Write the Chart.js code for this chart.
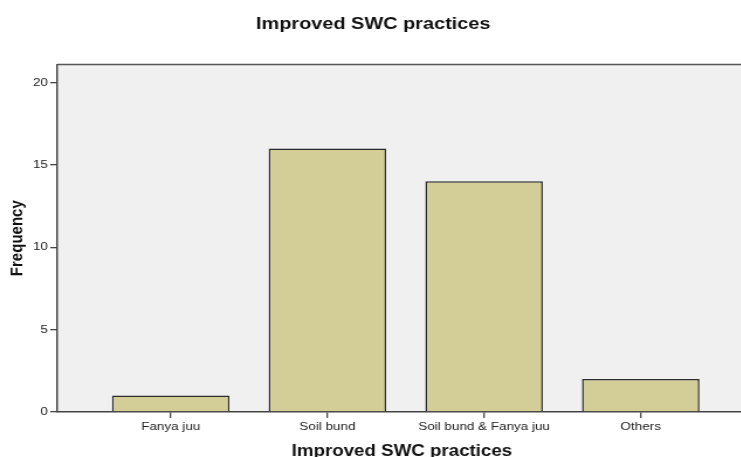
<!DOCTYPE html>
<html>
<head>
<meta charset="utf-8">
<script src="https://cdn.jsdelivr.net/npm/chart.js@4"></script>
<style>
  html, body { margin: 0; padding: 0; background: #fff; overflow: hidden; }
  /* the reference is stretched sideways, so the canvas is too */
  #wrap { width: 638px; height: 457px; transform: scaleX(1.17); transform-origin: 0 0; }
</style>
</head>
<body>
<div id="wrap"><canvas id="chart"></canvas></div>
<script>
// values
const categories = ['Fanya juu', 'Soil bund', 'Soil bund & Fanya juu', 'Others'];
const frequency = [1, 16, 14, 2];
const yTicks = [0, 5, 10, 15, 20];

const fontFamily = '"Liberation Sans", Arial, sans-serif';

// plot background + top border of the frame
const frame = {
  id: 'frame',
  beforeDraw(chart) {
    const { ctx, chartArea: a } = chart;
    ctx.save();
    ctx.fillStyle = '#f0f0f0';
    ctx.fillRect(a.left, a.top, a.right - a.left, a.bottom - a.top);
    ctx.restore();
  },
  afterDraw(chart) {
    const { ctx, chartArea: a } = chart;
    ctx.save();
    ctx.strokeStyle = '#555';
    ctx.lineWidth = 1.5;
    ctx.beginPath();
    ctx.moveTo(a.left, a.top);
    ctx.lineTo(a.right, a.top);
    ctx.stroke();
    ctx.restore();
  }
};

new Chart(document.getElementById('chart'), {
  type: 'bar',
  data: {
    datasets: [{
      data: frequency.map((v, i) => ({ x: i + 1, y: v })),
      backgroundColor: '#d3ce97',
      borderColor: '#2a2a2a',
      borderWidth: 1.5,
      barPercentage: 0.75,
      categoryPercentage: 1
    }]
  },
  options: {
    responsive: true,
    maintainAspectRatio: false,
    animation: false,
    layout: { padding: 0 },
    plugins: {
      legend: { display: false },
      tooltip: { enabled: false },
      title: {
        display: true,
        text: 'Improved SWC practices',
        color: '#111',
        font: { family: fontFamily, size: 17, weight: 'bold', lineHeight: 1.2 },
        padding: { top: 14, bottom: 30 }
      }
    },
    scales: {
      x: {
        type: 'linear',
        bounds: 'data',
        offset: false,
        min: 0.276,
        max: 4.675,
        afterBuildTicks: s => { s.ticks = categories.map((c, i) => ({ value: i + 1 })); },
        afterFit: s => { s.height = 45; },
        ticks: {
          stepSize: 1,
          includeBounds: false,
          autoSkip: false,
          maxRotation: 0,
          padding: 2,
          color: '#222',
          font: { family: fontFamily, size: 11.5 },
          callback: v => categories[v - 1]
        },
        grid: { display: true, offset: false, drawOnChartArea: false, drawTicks: true, tickLength: 6, color: '#444', lineWidth: 1.3 },
        border: { display: true, color: '#444', width: 1.5 },
        title: {
          display: true,
          text: 'Improved SWC practices',
          color: '#111',
          font: { family: fontFamily, size: 16, weight: 'bold', lineHeight: 1 },
          padding: { top: 0, bottom: -3 }
        }
      },
      y: {
        bounds: 'data',
        min: 0,
        max: 21.1,
        afterBuildTicks: s => { s.ticks = yTicks.map(v => ({ value: v })); },
        afterFit: s => { s.width = 49; },
        ticks: {
          stepSize: 5,
          includeBounds: false,
          padding: 2,
          color: '#222',
          font: { family: fontFamily, size: 11.5 }
        },
        grid: { display: true, drawOnChartArea: false, drawTicks: true, tickLength: 6, color: '#444', lineWidth: 1.3 },
        border: { display: true, color: '#444', width: 1.5 },
        title: {
          display: true,
          text: 'Frequency',
          color: '#111',
          font: { family: fontFamily, size: 15, weight: 'bold', lineHeight: 1.2 },
          padding: { top: 6, bottom: 0 }
        }
      }
    }
  },
  plugins: [frame]
});
</script>
</body>
</html>
